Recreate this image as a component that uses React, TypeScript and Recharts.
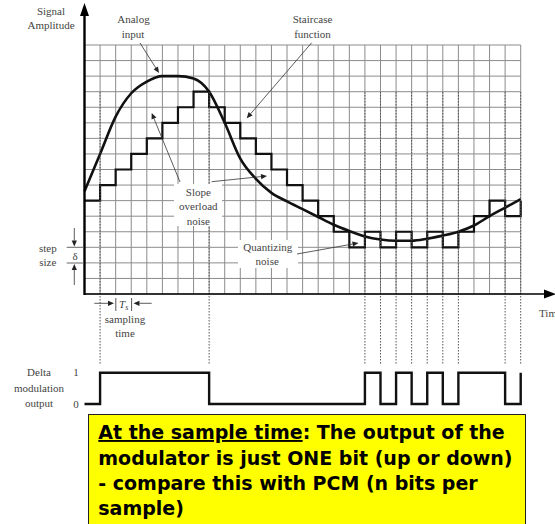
import React from "react";
import { ComposedChart, Line, XAxis, YAxis, CartesianGrid, ReferenceLine } from "recharts";

const W = 555;
const H = 524;

// sample instants (grid columns) along the time axis
const sampleTimes = [0, 1, 2, 3, 4, 5, 6, 7, 8, 9, 10, 11, 12, 13, 14, 15, 16, 17, 18, 19, 20, 21, 22, 23, 24, 25, 26, 27, 28];
// analog input (grid units)
const analogInput = [6.6, 9.0, 11.4, 12.9, 13.65, 14.0, 14.0, 13.85, 13.0, 11.0, 8.7, 7.4, 6.5, 5.95, 5.45, 4.95, 4.45, 4.05, 3.7, 3.5, 3.42, 3.42, 3.55, 3.75, 4.0, 4.4, 5.0, 5.55, 6.1];
// staircase approximation
const staircase = [6, 7, 8, 9, 10, 11, 12, 13, 12, 11, 10, 9, 8, 7, 6, 5, 4, 3, 4, 3, 4, 3, 4, 3, 4, 5, 6, 5, 6];
// delta modulation output bits
const deltaBits = [0, 1, 1, 1, 1, 1, 1, 1, 0, 0, 0, 0, 0, 0, 0, 0, 0, 0, 1, 0, 1, 0, 1, 0, 1, 1, 1, 0, 1];
const ampTicks = [0, 1, 2, 3, 4, 5, 6, 7, 8, 9, 10, 11, 12, 13, 14, 15, 16];

const mainData = sampleTimes.map((t, i) => ({ t, analog: analogInput[i], stair: staircase[i] }));
const pulseData = sampleTimes.map((t, i) => ({ t, bit: deltaBits[i] }));
const edges = sampleTimes.filter((t, i) => i > 0 && deltaBits[i] !== deltaBits[i - 1]);

const serif = "'Liberation Serif', 'DejaVu Serif', serif";
const lbl = { fontFamily: serif, fontSize: 11, fill: "#444" } as const;

const Arrow = ({ x1, y1, x2, y2, w = 0.8 }: { x1: number; y1: number; x2: number; y2: number; w?: number }) => {
    const a = Math.atan2(y2 - y1, x2 - x1);
    const L = 6, hw = 2.6;
    const bx = x2 - L * Math.cos(a), by = y2 - L * Math.sin(a);
    const p1 = `${bx + hw * Math.sin(a)},${by - hw * Math.cos(a)}`;
    const p2 = `${bx - hw * Math.sin(a)},${by + hw * Math.cos(a)}`;
    return (
        <g>
            <line x1={x1} y1={y1} x2={bx} y2={by} stroke="#333" strokeWidth={w} />
            <polygon points={`${x2},${y2} ${p1} ${p2}`} fill="#222" />
        </g>
    );
};

const T = ({ x, y, children, anchor = "middle" }: any) => (
    <text x={x} y={y} textAnchor={anchor} style={lbl}>{children}</text>
);

const Annotations = () => (
    <svg width={W} height={H} style={{ position: "absolute", left: 0, top: 0 }}>
        {/* axes */}
        <line x1={84.5} y1={295} x2={84.5} y2={14} stroke="#000" strokeWidth={2.4} />
        <polygon points="84.5,3 80,16 89,16" fill="#000" />
        <line x1={84} y1={294} x2={545} y2={294} stroke="#000" strokeWidth={1.4} />
        <polygon points="556,294 544,289.5 544,298.5" fill="#000" />

        <T x={51} y={15}>Signal</T>
        <T x={51} y={29}>Amplitude</T>
        <T x={133.5} y={23}>Analog</T>
        <T x={133} y={38}>input</T>
        <Arrow x1={140} y1={43} x2={159} y2={73} />
        <T x={312.5} y={23}>Staircase</T>
        <T x={312.5} y={38}>function</T>
        <Arrow x1={311.7} y1={42.7} x2={246.7} y2={118.3} />

        <rect x={174} y={184} width={48} height={42} fill="#fff" />
        <T x={198.3} y={196}>Slope</T>
        <T x={198.3} y={209.7}>overload</T>
        <T x={198.3} y={225}>noise</T>
        <Arrow x1={180} y1={182} x2={151.7} y2={113} />
        <Arrow x1={211.7} y1={181.7} x2={267} y2={176} />

        <rect x={238} y={240} width={60} height={28} fill="#fff" />
        <T x={267.8} y={251}>Quantizing</T>
        <T x={267.2} y={265}>noise</T>
        <Arrow x1={297} y1={254} x2={358.5} y2={243} />

        <T x={47.8} y={252.3}>step</T>
        <T x={47.8} y={266.3}>size</T>
        <T x={75} y={260}>δ</T>
        <line x1={66.7} y1={247.3} x2={84} y2={247.3} stroke="#555" strokeWidth={0.9} />
        <line x1={66.7} y1={263} x2={84} y2={263} stroke="#555" strokeWidth={0.9} />
        <Arrow x1={74.3} y1={228} x2={74.3} y2={246.5} />
        <Arrow x1={74.3} y1={285} x2={74.3} y2={264} />

        <Arrow x1={94.3} y1={303.3} x2={114} y2={303.3} />
        <line x1={115.8} y1={298} x2={115.8} y2={311} stroke="#444" strokeWidth={0.9} />
        <line x1={131.6} y1={298} x2={131.6} y2={311} stroke="#444" strokeWidth={0.9} />
        <Arrow x1={151.7} y1={303.3} x2={133.5} y2={303.3} />
        <text x={119} y={307.5} style={{ ...lbl, fontStyle: "italic" }}>T<tspan fontSize={8} dy={2}>s</tspan></text>
        <T x={125} y={323}>sampling</T>
        <T x={125} y={336.7}>time</T>
        <T x={539} y={317.3} anchor="start">Time</T>

        <T x={39} y={375.7}>Delta</T>
        <T x={39} y={392.3}>modulation</T>
        <T x={39} y={407.3}>output</T>
        <T x={76} y={375.7}>1</T>
        <T x={76} y={408}>0</T>

        <rect x={88.5} y={414.5} width={437} height={120} fill="#ffff00" stroke="#222" strokeWidth={1} />
        <g style={{ fontFamily: "'DejaVu Sans', sans-serif", fontWeight: 700, fontSize: 19, fill: "#000" }}>
            <text x={98.3} y={439}>
                <tspan textDecoration="underline" style={{ textDecoration: "underline" }}>At the sample time</tspan>: The output of the
            </text>
            <text x={98.3} y={465}>modulator is just ONE bit (up or down)</text>
            <text x={98.3} y={490}>- compare this with PCM (n bits per</text>
            <text x={98.3} y={515}>sample)</text>
        </g>
    </svg>
);

export default function App() {
    return (
        <div style={{ position: "absolute", left: 0, top: 0, width: W, height: H, overflow: "hidden", background: "#fff" }}>
            <div style={{ position: "absolute", left: 0, top: 0 }}>
                <ComposedChart width={W} height={H} data={mainData} margin={{ top: 45, right: 34.3, bottom: 230, left: 84.5 }}>
                    <CartesianGrid stroke="#8c8c8c" strokeWidth={1} />
                    <XAxis dataKey="t" type="number" domain={[0, 28]} ticks={sampleTimes} interval={0} hide />
                    <YAxis type="number" domain={[0, 16]} ticks={ampTicks} interval={0} hide />
                    <Line dataKey="stair" type="stepAfter" stroke="#111" strokeWidth={2.2} dot={false} isAnimationActive={false} />
                    <Line dataKey="analog" type="monotone" stroke="#111" strokeWidth={2.6} dot={false} isAnimationActive={false} />
                </ComposedChart>
            </div>
            <div style={{ position: "absolute", left: 0, top: 0 }}>
                <ComposedChart width={W} height={H} data={pulseData} margin={{ top: 92, right: 34.3, bottom: 120, left: 84.5 }}>
                    <XAxis dataKey="t" type="number" domain={[0, 28]} hide />
                    <YAxis type="number" domain={[0, 10]} hide />
                    {edges.map((e) => (
                        <ReferenceLine key={e} segment={[{ x: e, y: 10 }, { x: e, y: 1.25 }]} stroke="#555" strokeWidth={1} strokeDasharray="1.5 1.5" />
                    ))}
                    <Line dataKey="bit" type="stepAfter" stroke="#111" strokeWidth={2.4} dot={false} isAnimationActive={false} />
                </ComposedChart>
            </div>
            <Annotations />
        </div>
    );
}
